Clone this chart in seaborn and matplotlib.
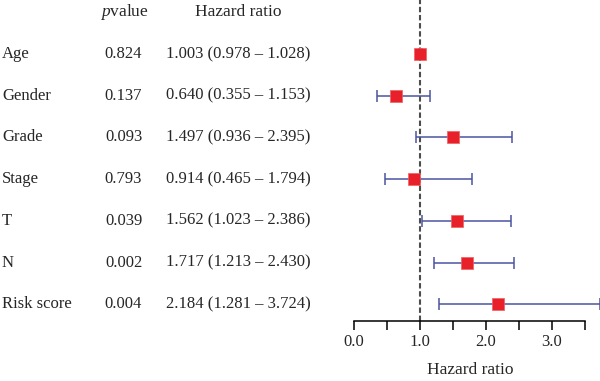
import matplotlib
matplotlib.use("Agg")
import matplotlib.pyplot as plt
import matplotlib.transforms as mtrans
import seaborn as sns
import pandas as pd

# values
variables = ["Age", "Gender", "Grade", "Stage", "T", "N", "Risk score"]
pvalues = ["0.824", "0.137", "0.093", "0.793", "0.039", "0.002", "0.004"]
hr = [1.003, 0.640, 1.497, 0.914, 1.562, 1.717, 2.184]
hr_low = [0.978, 0.355, 0.936, 0.465, 1.023, 1.213, 1.281]
hr_high = [1.028, 1.153, 2.395, 1.794, 2.386, 2.430, 3.724]
xticks = [0.0, 0.5, 1.0, 1.5, 2.0, 2.5, 3.0, 3.5]
xticklabels = ["0.0", "", "1.0", "", "2.0", "", "3.0", ""]

df = pd.DataFrame({"var": variables, "p": pvalues, "hr": hr,
                   "lo": hr_low, "hi": hr_high, "row": range(len(variables))})

sns.set_theme(style="white")
plt.rcParams["font.family"] = ["Liberation Serif", "DejaVu Serif"]
plt.rcParams["mathtext.fontset"] = "custom"
plt.rcParams["mathtext.rm"] = "Liberation Serif"
plt.rcParams["mathtext.it"] = "Liberation Serif:italic"

W, H = 600, 381
fig = plt.figure(figsize=(6, 3.81), dpi=100)
# axes spans pixel x 340..600, y 0..321
ax = fig.add_axes([340 / W, 1 - 321 / H, 260 / W, 321 / H])
ax.set_xlim(-14 / 66, 246 / 66)
ax.set_ylim(6.40, -1.295)

blue = "#4b53a0"
ax.axvline(1.0, color="#4d4d4d", lw=1.5, ls=(0, (2.6, 1.3)), zorder=1)
ax.hlines(df["row"], df["lo"], df["hi"], color=blue, lw=1.1, zorder=2)
ax.scatter(df["lo"], df["row"], marker="|", s=65, color=blue, lw=1.1, zorder=2)
ax.scatter(df["hi"], df["row"], marker="|", s=65, color=blue, lw=1.1, zorder=2)
sns.scatterplot(data=df, x="hr", y="row", marker="s", s=72, color="#e8202a",
                edgecolor="#f06060", linewidth=0.5, ax=ax, zorder=3, legend=False)

for s in ["top", "right", "left"]:
    ax.spines[s].set_visible(False)
ax.spines["bottom"].set_bounds(0, 3.5)
ax.spines["bottom"].set_color("black")
ax.spines["bottom"].set_linewidth(1.1)
ax.set_yticks([])
ax.set_xticks(xticks)
ax.set_xticklabels(xticklabels)
ax.tick_params(axis="x", direction="out", length=6.5, width=1.1, color="black",
               labelsize=12, pad=3, bottom=True)
ax.set_xlabel("Hazard ratio", fontsize=12.5, labelpad=8.5)
ax.set_ylabel("")

# text columns: x in figure pixels, y in data rows
trans = mtrans.blended_transform_factory(fig.transFigure, ax.transData)
fs = 12
for i, row in df.iterrows():
    fig.text(2 / W, row["row"], row["var"], transform=trans, ha="left", va="center", fontsize=fs)
    fig.text(123.5 / W, row["row"], row["p"], transform=trans, ha="center", va="center", fontsize=fs)
    fig.text(166 / W, row["row"],
             f"{row['hr']:.3f} ({row['lo']:.3f} \u2013 {row['hi']:.3f})",
             transform=trans, ha="left", va="center", fontsize=fs)
fig.text(124.5 / W, -1.007, "$\\mathit{p}$value", transform=trans, ha="center", va="center", fontsize=12.5)
fig.text(238 / W, -1.007, "Hazard ratio", transform=trans, ha="center", va="center", fontsize=12.5)

fig.savefig("out.png", dpi=100)
